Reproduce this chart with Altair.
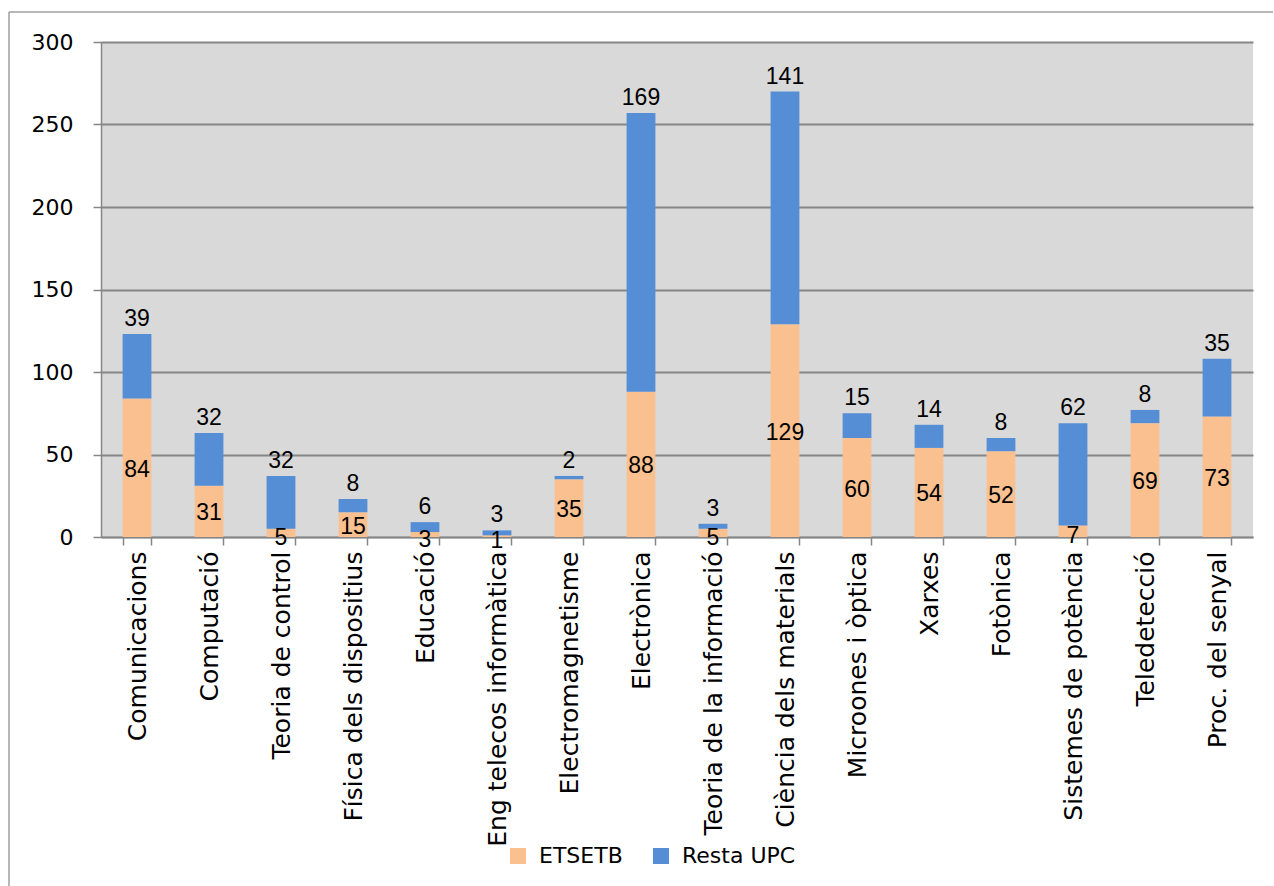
import altair as alt
import pandas as pd

# Research areas on the x axis
areas = [
    "Comunicacions", "Computació", "Teoria de control", "Física dels dispositius",
    "Educació", "Eng telecos informàtica", "Electromagnetisme", "Electrònica",
    "Teoria de la informació", "Ciència dels materials", "Microones i òptica",
    "Xarxes", "Fotònica", "Sistemes de potència", "Teledetecció", "Proc. del senyal",
]
# Counts per group
etsetb = [84, 31, 5, 15, 3, 1, 35, 88, 5, 129, 60, 54, 52, 7, 69, 73]
resta_upc = [39, 32, 32, 8, 6, 3, 2, 169, 3, 141, 15, 14, 8, 62, 8, 35]

series = ["ETSETB", "Resta UPC"]
colors = ["#FAC090", "#558ED5"]

long_rows = []
for a, e, r in zip(areas, etsetb, resta_upc):
    long_rows.append({"area": a, "grup": series[0], "valor": e, "ordre": 0})
    long_rows.append({"area": a, "grup": series[1], "valor": r, "ordre": 1})
long_df = pd.DataFrame(long_rows)

wide_df = pd.DataFrame({
    "area": areas,
    "etsetb": etsetb,
    "resta": resta_upc,
})
wide_df["mig"] = wide_df["etsetb"] / 2
wide_df["total"] = wide_df["etsetb"] + wide_df["resta"]

W, H = 1152, 495
grey = "#868686"

x_enc = alt.X(
    "area:N", sort=areas, title=None,
    scale=alt.Scale(paddingInner=0.6, paddingOuter=0.3),
    axis=alt.Axis(
        labelAngle=-90, labelFont="DejaVu Sans", labelFontSize=25,
        labelColor="black", tickBand="extent", tickSize=8, tickColor=grey,
        tickWidth=1.5, domainColor=grey, domainWidth=1.5, labelPadding=6,
        labelLimit=400,
    ),
)
y_scale = alt.Scale(domain=[0, 300], nice=False)

bars = alt.Chart(long_df).mark_bar().encode(
    x=x_enc,
    y=alt.Y(
        "valor:Q", stack="zero", scale=y_scale, title=None,
        axis=alt.Axis(
            values=[0, 50, 100, 150, 200, 250, 300], labelFont="DejaVu Sans",
            labelFontSize=22, labelColor="black", labelPadding=20,
            tickSize=8, tickColor=grey, tickWidth=1.5, domainColor=grey,
            domainWidth=1.5, gridColor=grey, gridWidth=1.8,
        ),
    ),
    color=alt.Color(
        "grup:N", scale=alt.Scale(domain=series, range=colors),
        legend=alt.Legend(
            title=None, orient="none", direction="horizontal",
            legendX=406, legendY=803, symbolType="square", symbolSize=256,
            symbolStrokeWidth=0, labelFont="DejaVu Sans", labelFontSize=22,
            labelColor="black", labelOffset=10, columnPadding=27, padding=0,
        ),
    ),
    order=alt.Order("ordre:Q"),
)

label_style = dict(font="Liberation Sans", fontSize=23, color="black")

# ETSETB counts, centred in their segment; very short segments push the label lower
low_labels = alt.Chart(wide_df).transform_filter(
    "datum.etsetb >= 10"
).mark_text(baseline="middle", dy=2, **label_style).encode(
    x=alt.X("area:N", sort=areas),
    y=alt.Y("mig:Q", scale=y_scale),
    text="etsetb:Q",
)
low_labels_small = alt.Chart(wide_df).transform_filter(
    "datum.etsetb < 10"
).mark_text(baseline="middle", dy=5, **label_style).encode(
    x=alt.X("area:N", sort=areas),
    y=alt.Y("mig:Q", scale=y_scale),
    text="etsetb:Q",
)

# Resta UPC counts, above each stacked bar
top_labels = alt.Chart(wide_df).mark_text(
    baseline="alphabetic", dy=-8, **label_style
).encode(
    x=alt.X("area:N", sort=areas),
    y=alt.Y("total:Q", scale=y_scale),
    text="resta:Q",
)

# Outer frame of the chart (left and top edges)
frame_df = pd.DataFrame({"k": [0]})
frame_left = alt.Chart(frame_df).mark_rule(color="#a0a0a0", strokeWidth=1.5).encode(
    x=alt.value(-92), y=alt.value(-30), y2=alt.value(844)
)
frame_top = alt.Chart(frame_df).mark_rule(color="#a0a0a0", strokeWidth=1.5).encode(
    x=alt.value(-92), x2=alt.value(1172), y=alt.value(-30)
)

chart = alt.layer(
    bars, low_labels, low_labels_small, top_labels, frame_left, frame_top
).properties(
    width=W, height=H,
    autosize=alt.AutoSizeParams(type="none"),
    padding={"left": 101, "top": 42, "right": 21, "bottom": 349},
    background="white",
).configure_view(
    fill="#D9D9D9", stroke=None,
).configure_axis(
    labelOverlap=False,
)

chart.save("out.html", embed_options={"renderer": "svg", "actions": False})
